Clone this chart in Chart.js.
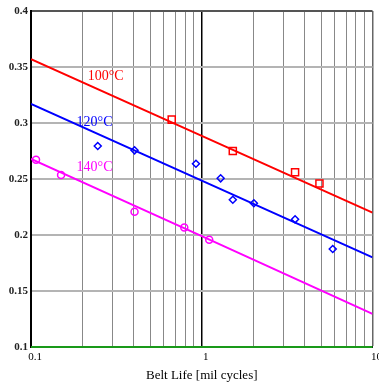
<!DOCTYPE html>
<html>
<head>
<meta charset="utf-8">
<script src="https://cdn.jsdelivr.net/npm/chart.js@4/dist/chart.umd.min.js"></script>
<style>
html, body { margin: 0; padding: 0; background: #fff; }
</style>
</head>
<body>
<canvas id="chart" width="379" height="383"></canvas>
<script>
// fitted lines (life in mil cycles vs. value)
var fitLife = [0.1, 1, 10];
var fit100 = [0.357, 0.2885, 0.220];
var fit120 = [0.317, 0.2485, 0.180];
var fit140 = [0.268, 0.1990, 0.1295];
var baseLine = [0.1, 0.1, 0.1];

// measured points
var life100 = [0.667, 1.52, 3.52, 4.89];
var val100 = [0.303, 0.275, 0.256, 0.246];
var life120 = [0.246, 0.404, 0.925, 1.29, 1.52, 2.02, 3.52, 5.85];
var val120 = [0.2795, 0.2756, 0.2636, 0.2506, 0.2315, 0.2283, 0.214, 0.1875];
var life140 = [0.107, 0.150, 0.404, 0.790, 1.106];
var val140 = [0.2672, 0.2536, 0.2208, 0.2068, 0.1958];

var xTicks = [0.1, 0.2, 0.3, 0.4, 0.5, 0.6, 0.7, 0.8, 0.9, 1, 2, 3, 4, 5, 6, 7, 8, 9, 10];
var xLabels = [0.1, 1, 10];
var yTicks = [0.1, 0.15, 0.2, 0.25, 0.3, 0.35, 0.4];

var labelText = ["100°C", "120°C", "140°C"];
var labelX = [0.215, 0.185, 0.185];
var labelY = [0.342, 0.301, 0.260];
var labelColor = ["#ff0000", "#0000ff", "#ff00ff"];

function pts(xs, ys) {
    var out = [];
    for (var i = 0; i < xs.length; i++) out.push({x: xs[i], y: ys[i]});
    return out;
}

var textPlugin = {
    id: "tempLabels",
    afterDatasetsDraw: function (chart) {
        var ctx = chart.ctx;
        var xs = chart.scales.x, ys = chart.scales.y;
        ctx.save();
        ctx.font = "14px 'Liberation Serif'";
        ctx.textAlign = "left";
        ctx.textBaseline = "middle";
        for (var i = 0; i < labelText.length; i++) {
            ctx.fillStyle = labelColor[i];
            ctx.fillText(labelText[i], xs.getPixelForValue(labelX[i]), ys.getPixelForValue(labelY[i]));
        }
        ctx.restore();
    }
};

function lineSet(ys, color) {
    return {
        type: "line",
        data: pts(fitLife, ys),
        borderColor: color,
        borderWidth: 2,
        pointRadius: 0,
        fill: false,
        tension: 0
    };
}

function markSet(xs, ys, color, style, r) {
    return {
        type: "scatter",
        data: pts(xs, ys),
        showLine: false,
        pointStyle: style,
        pointRadius: r,
        pointBorderColor: color,
        pointBackgroundColor: "rgba(0,0,0,0)",
        pointBorderWidth: 1.5
    };
}

var ctx = document.getElementById("chart");
var chart = new Chart(ctx, {
    type: "scatter",
    data: {
        datasets: [
            markSet(life100, val100, "#ff0000", "rect", 5),
            markSet(life120, val120, "#0000ff", "rectRot", 3.5),
            markSet(life140, val140, "#ff00ff", "circle", 3.5),
            lineSet(fit100, "#ff0000"),
            lineSet(fit120, "#0000ff"),
            lineSet(fit140, "#ff00ff"),
            {
                type: "line",
                data: pts(fitLife, baseLine),
                borderColor: "#22cc22",
                borderWidth: 1.5,
                pointRadius: 0,
                clip: 3
            }
        ]
    },
    plugins: [textPlugin],
    options: {
        responsive: false,
        animation: false,
        layout: { padding: { top: 11, right: 5, left: 0, bottom: 0 } },
        plugins: { legend: { display: false }, tooltip: { enabled: false } },
        scales: {
            x: {
                type: "logarithmic",
                min: 0.1,
                max: 10,
                afterBuildTicks: function (scale) {
                    scale.ticks = xTicks.map(function (v) { return {value: v}; });
                },
                afterFit: function (scale) {
                    scale.height = 36;
                    scale.paddingLeft = 0;
                    scale.paddingRight = 0;
                },
                ticks: {
                    autoSkip: false,
                    maxRotation: 0,
                    padding: 4,
                    labelOffset: 4,
                    color: "#000",
                    font: { family: "'Liberation Serif'", size: 11 },
                    callback: function (v) {
                        return xLabels.indexOf(v) >= 0 ? String(v) : "";
                    }
                },
                grid: {
                    drawTicks: false,
                    color: function (c) {
                        if (c.tick.value === 1 || c.tick.value === 0.1) return "#000";
                        if (c.tick.value === 10) return "#666";
                        return "#888";
                    },
                    lineWidth: function (c) {
                        if (c.tick.value === 1 || c.tick.value === 10) return 1.5;
                        return 1;
                    }
                },
                border: { color: "#000", width: 2 },
                title: {
                    display: true,
                    text: "Belt Life [mil cycles]",
                    color: "#000",
                    font: { family: "'Liberation Serif'", size: 13 },
                    padding: { top: 0, bottom: 0 }
                }
            },
            y: {
                type: "linear",
                min: 0.1,
                max: 0.4,
                afterBuildTicks: function (scale) {
                    scale.ticks = yTicks.map(function (v) { return {value: v}; });
                },
                afterFit: function (scale) {
                    scale.width = 31;
                    scale.paddingTop = 0;
                    scale.paddingBottom = 0;
                },
                ticks: {
                    padding: 3,
                    color: "#222",
                    font: { family: "'Liberation Serif'", size: 11, weight: "bold" },
                    callback: function (v) { return String(+v.toFixed(2)); }
                },
                grid: {
                    drawTicks: false,
                    color: function (c) {
                        if (Math.abs(c.tick.value - 0.4) < 1e-6) return "#555";
                        if (Math.abs(c.tick.value - 0.1) < 1e-6) return "#000";
                        return "#b4b4b4";
                    },
                    lineWidth: 2
                },
                border: { color: "#000", width: 2 }
            }
        }
    }
});
</script>
</body>
</html>
